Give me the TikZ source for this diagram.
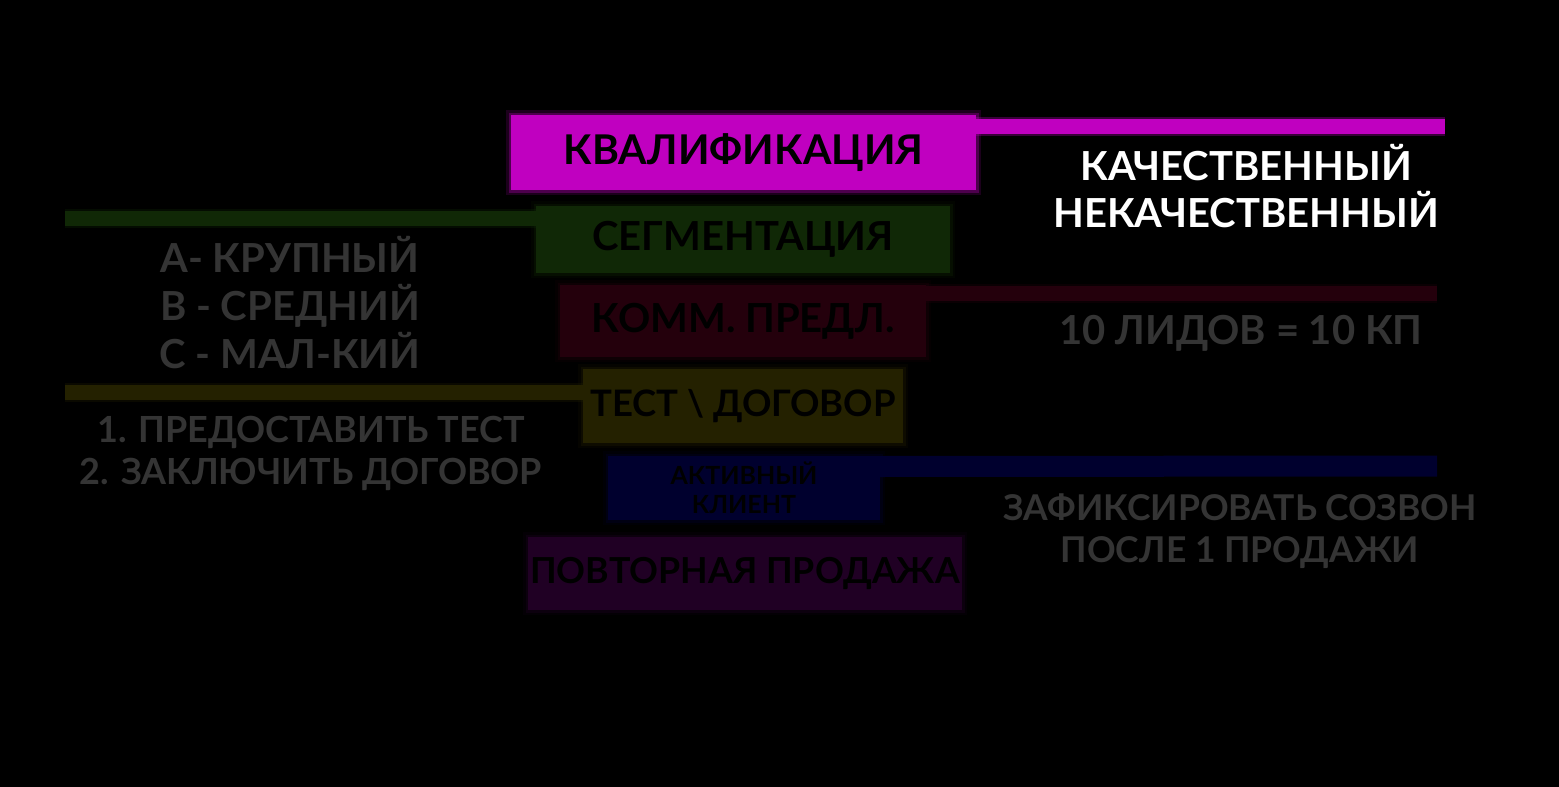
\documentclass[tikz,border=0pt]{standalone}
\usepackage{fontspec}
\setmainfont{Lato}
\usetikzlibrary{positioning}

\definecolor{kvalcol}{RGB}{192,0,192}
\definecolor{segmcol}{RGB}{16,40,6}
\definecolor{kommcol}{RGB}{36,0,12}
\definecolor{testcol}{RGB}{36,33,0}
\definecolor{aktivcol}{RGB}{0,0,46}
\definecolor{povtcol}{RGB}{32,0,36}
\definecolor{greytext}{RGB}{52,52,52}

\tikzset{
    stage/.style={rectangle, fill=#1, inner sep=0pt, font=\bfseries\fontsize{40}{44}\selectfont, text=black,
        preaction={draw=#1, line width=10pt, draw opacity=0.15},
        preaction={draw=#1, line width=5pt, draw opacity=0.3}},
    bar/.style={draw=#1, line width=15pt, preaction={draw=#1, line width=19pt, draw opacity=0.3}},
    note/.style={align=center, text=greytext, font=\bfseries\fontsize{40}{48}\selectfont}
}

\begin{document}
\begin{tikzpicture}[x=1pt, y=-1pt]
        \fill[black] (0, 0) rectangle (1559, 787);

        % bar ends
        \coordinate (kvalend) at (1445, 126);
        \coordinate (segmend) at (65, 218);
        \coordinate (kommend) at (1437, 293);
        \coordinate (testend) at (65, 392);
        \coordinate (aktivend) at (1437, 466);

        \draw[bar=kvalcol] (960, 126) -- (kvalend);
        \draw[bar=segmcol] (segmend) -- (536, 218);
        \draw[bar=kommcol] (926, 293) -- (kommend);
        \draw[bar=testcol] (testend) -- (583, 392);
        \draw[line width=21pt, draw=aktivcol] (880, 466.5) -- (aktivend);

        \node[stage=kvalcol, minimum width=465pt, minimum height=75pt, font=\bfseries\fontsize{41}{44}\selectfont] (kval) at (743.5, 152.5) {КВАЛИФИКАЦИЯ};
        \node[stage=segmcol, minimum width=414pt, minimum height=67pt] (segm) at (743, 239.5) {СЕГМЕНТАЦИЯ};
        \node[stage=kommcol, minimum width=366pt, minimum height=72pt] (komm) at (743, 321) {КОММ. ПРЕДЛ.};
        \node[stage=testcol, minimum width=320pt, minimum height=74pt, font=\bfseries\fontsize{36.5}{40}\selectfont] (test) at (743, 406) {ТЕСТ \textbackslash{} ДОГОВОР};
        \node[stage=aktivcol, minimum width=272pt, minimum height=64pt, align=center,
            font=\bfseries\fontsize{25}{29}\selectfont] (aktiv) at (744, 488) {АКТИВНЫЙ\\КЛИЕНТ};
        \node[stage=povtcol, minimum width=434pt, minimum height=73pt, font=\bfseries\fontsize{35.8}{40}\selectfont] (povt) at (745, 573.5) {ПОВТОРНАЯ ПРОДАЖА};

        % notes
        \node[note, text=white, font=\bfseries\fontsize{40}{47}\selectfont] (kachestvo) at (1246, 186) {КАЧЕСТВЕННЫЙ\\НЕКАЧЕСТВЕННЫЙ};
        \node[note] (razmer) at (290, 303) {А- КРУПНЫЙ\\В - СРЕДНИЙ\\С - МАЛ-КИЙ};
        \node[note] (lidy) at (1241, 333) {10 ЛИДОВ = 10 КП};
        \node[note, font=\bfseries\fontsize{36}{42}\selectfont] (shagi) at (311, 453) {1. ПРЕДОСТАВИТЬ ТЕСТ\\2. ЗАКЛЮЧИТЬ ДОГОВОР};
        \node[note, font=\bfseries\fontsize{35.5}{42}\selectfont] (sozvon) at (1240, 531) {ЗАФИКСИРОВАТЬ СОЗВОН\\ПОСЛЕ 1 ПРОДАЖИ};
    \end{tikzpicture}
\end{document}
